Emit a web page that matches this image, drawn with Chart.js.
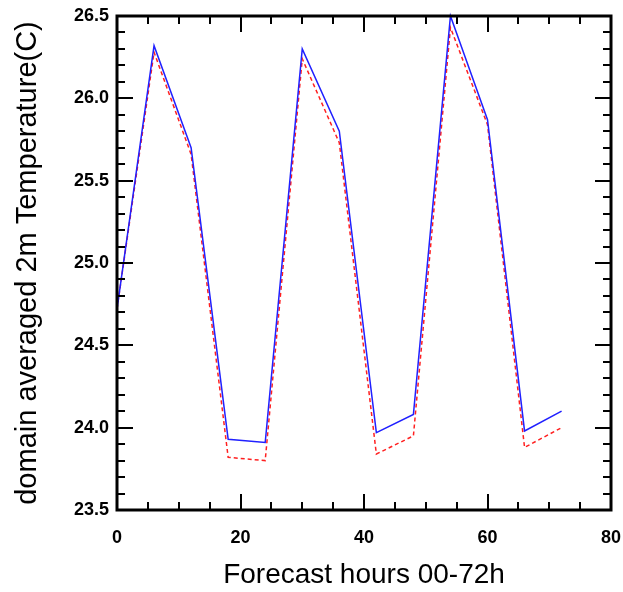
<!DOCTYPE html>
<html>
<head>
<meta charset="utf-8">
<script src="https://cdn.jsdelivr.net/npm/chart.js@4.4.1/dist/chart.umd.min.js"></script>
<style>
  html, body { margin: 0; padding: 0; background: #fff; }
  #wrap { width: 623px; height: 592px; }
</style>
</head>
<body>
<div id="wrap"><canvas id="tempChart" width="623" height="592"></canvas></div>
<script>
// forecast hours and the two model runs (domain averaged 2m temperature, C)
const hours = [0, 6, 12, 18, 24, 30, 36, 42, 48, 54, 60, 66, 72];
const blueRun = [24.72, 26.32, 25.70, 23.93, 23.91, 26.30, 25.80, 23.97, 24.08, 26.50, 25.87, 23.98, 24.10];
const redRun = [24.72, 26.28, 25.66, 23.82, 23.80, 26.24, 25.73, 23.84, 23.95, 26.43, 25.84, 23.88, 24.00];
const xTicks = [0, 20, 40, 60, 80];
const yTicks = [23.5, 24.0, 24.5, 25.0, 25.5, 26.0, 26.5];

function toPoints(values) {
    return hours.map((h, i) => ({ x: h, y: values[i] }));
}

// NCL style frame with ticks pointing inward on all four sides
const frameTicks = {
    id: "frameTicks",
    afterDraw(chart) {
        const ctx = chart.ctx;
        const a = chart.chartArea;
        const xs = chart.scales.x;
        const ys = chart.scales.y;
        ctx.save();
        ctx.strokeStyle = "#000";
        ctx.lineWidth = 2;

        for (let v = 0; v <= 80; v += 5) {
            const px = Math.round(xs.getPixelForValue(v));
            const len = v % 20 === 0 ? 16 : 8;
            ctx.beginPath();
            ctx.moveTo(px, a.bottom); ctx.lineTo(px, a.bottom - len);
            ctx.moveTo(px, a.top); ctx.lineTo(px, a.top + len);
            ctx.stroke();
        }
        for (let k = 0; k <= 30; k++) {
            const py = Math.round(ys.getPixelForValue(23.5 + k * 0.1));
            const len = k % 5 === 0 ? 16 : 8;
            ctx.beginPath();
            ctx.moveTo(a.left, py); ctx.lineTo(a.left + len, py);
            ctx.moveTo(a.right, py); ctx.lineTo(a.right - len, py);
            ctx.stroke();
        }

        ctx.lineWidth = 3;
        ctx.strokeRect(a.left, a.top, a.right - a.left, a.bottom - a.top);
        ctx.restore();
    }
};

const ctx = document.getElementById("tempChart").getContext("2d");
new Chart(ctx, {
    type: "line",
    data: {
        datasets: [
            {
                label: "run 1",
                data: toPoints(blueRun),
                borderColor: "#2020ff",
                borderWidth: 1.5,
                pointRadius: 0,
                tension: 0,
                clip: false
            },
            {
                label: "run 2",
                data: toPoints(redRun),
                borderColor: "#ff2020",
                borderWidth: 1.5,
                borderDash: [4, 3],
                pointRadius: 0,
                tension: 0
            }
        ]
    },
    options: {
        responsive: false,
        animation: false,
        layout: { padding: { top: 16, right: 12, left: 0, bottom: 0 } },
        plugins: {
            legend: { display: false },
            tooltip: { enabled: false }
        },
        scales: {
            x: {
                type: "linear",
                min: 0,
                max: 80,
                grid: { display: false, drawTicks: false },
                border: { display: false },
                afterBuildTicks(scale) {
                    scale.ticks = xTicks.map(v => ({ value: v }));
                },
                afterFit(scale) {
                    scale.height = 82;
                    scale.paddingLeft = 0;
                    scale.paddingRight = 0;
                },
                ticks: {
                    color: "#000",
                    padding: 17,
                    maxRotation: 0,
                    font: { family: "Liberation Sans", size: 18, weight: "bold" }
                },
                title: {
                    display: true,
                    text: "Forecast hours 00-72h",
                    color: "#000",
                    padding: { top: 5, bottom: 0 },
                    font: { family: "Liberation Sans", size: 28 }
                }
            },
            y: {
                type: "linear",
                min: 23.5,
                max: 26.5,
                grid: { display: false, drawTicks: false },
                border: { display: false },
                afterBuildTicks(scale) {
                    scale.ticks = yTicks.map(v => ({ value: v }));
                },
                afterFit(scale) {
                    scale.width = 117;
                    scale.paddingTop = 0;
                    scale.paddingBottom = 0;
                },
                ticks: {
                    color: "#000",
                    padding: 8,
                    callback: v => v.toFixed(1),
                    font: { family: "Liberation Sans", size: 18, weight: "bold" }
                },
                title: {
                    display: true,
                    text: "domain averaged 2m Temperature(C)",
                    color: "#000",
                    padding: { top: 11, bottom: 4 },
                    font: { family: "Liberation Sans", size: 29 }
                }
            }
        }
    },
    plugins: [frameTicks]
});
</script>
</body>
</html>
